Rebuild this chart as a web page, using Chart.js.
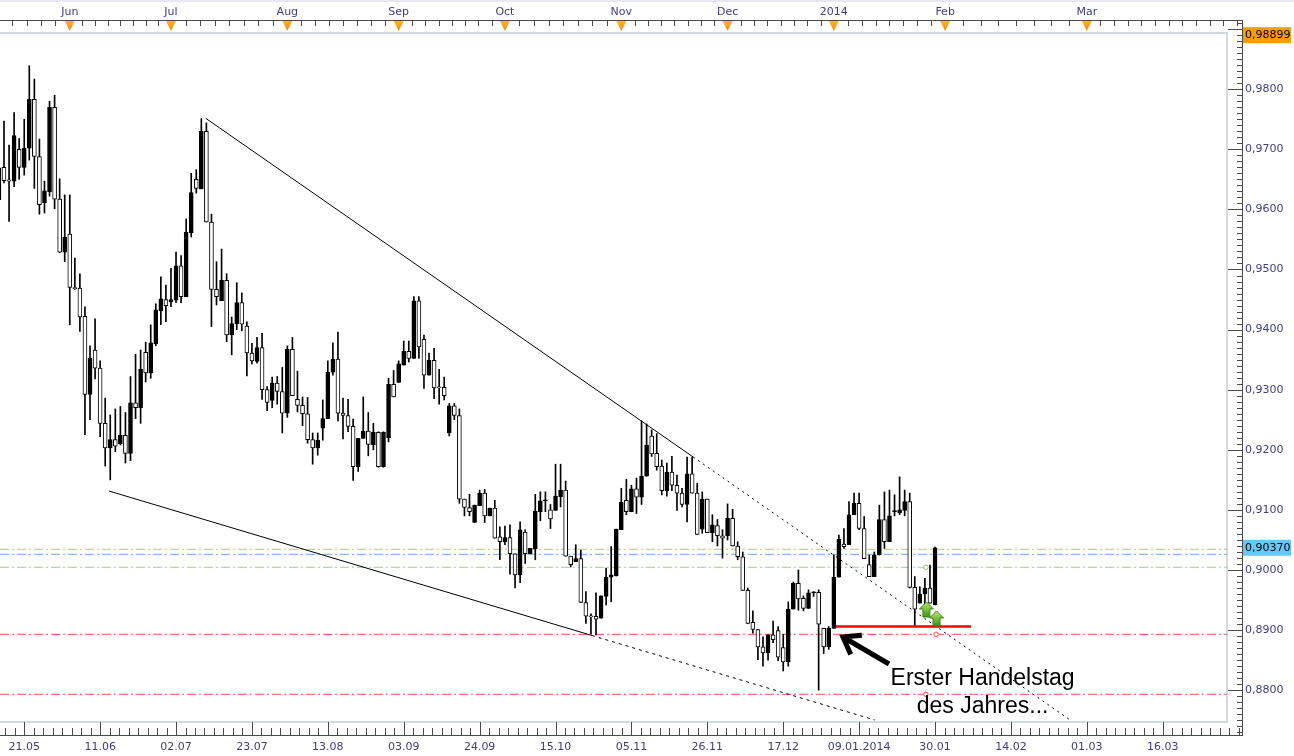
<!DOCTYPE html>
<html>
<head>
<meta charset="utf-8">
<script src="https://cdn.jsdelivr.net/npm/chart.js@4.4.1/dist/chart.umd.min.js"></script>
<style>
  html, body { margin: 0; padding: 0; background: #fff; }
  canvas { display: block; }
</style>
</head>
<body>
<canvas id="chart" width="1294" height="756"></canvas>
<script>
// daily candles, index 0 = partly hidden first day, 5 = 21.05.2013, 185 = 30.01.2014
const opens = [
  0.9616, 0.9670, 0.9649, 0.9647, 0.9700, 0.9670, 0.9702, 0.9783, 0.9688, 0.9611,
  0.9629, 0.9770, 0.9617, 0.9529, 0.9559, 0.9470, 0.9469, 0.9422, 0.9292, 0.9366,
  0.9336, 0.9244, 0.9203, 0.9217, 0.9210, 0.9224, 0.9194, 0.9278, 0.9270, 0.9362,
  0.9328, 0.9376, 0.9431, 0.9450, 0.9446, 0.9449, 0.9506, 0.9455, 0.9561, 0.9650,
  0.9634, 0.9730, 0.9579, 0.9467, 0.9448, 0.9482, 0.9391, 0.9410, 0.9445, 0.9406,
  0.9361, 0.9347, 0.9370, 0.9300, 0.9282, 0.9311, 0.9297, 0.9261, 0.9367, 0.9284,
  0.9274, 0.9260, 0.9217, 0.9203, 0.9236, 0.9252, 0.9329, 0.9351, 0.9261, 0.9257,
  0.9239, 0.9172, 0.9219, 0.9231, 0.9208, 0.9229, 0.9172, 0.9220, 0.9309, 0.9312,
  0.9341, 0.9364, 0.9352, 0.9448, 0.9384, 0.9324, 0.9349, 0.9304, 0.9304, 0.9228,
  0.9273, 0.9257, 0.9118, 0.9104, 0.9079, 0.9107, 0.9128, 0.9090, 0.9103, 0.9055,
  0.9047, 0.9054, 0.9027, 0.8992, 0.9063, 0.9027, 0.9035, 0.9097, 0.9115, 0.9100,
  0.9099, 0.9122, 0.9133, 0.9023, 0.9014, 0.9019, 0.8946, 0.8923, 0.8923, 0.8920,
  0.8956, 0.8988, 0.8990, 0.9067, 0.9116, 0.9097, 0.9135, 0.9121, 0.9156, 0.9223,
  0.9194, 0.9173, 0.9132, 0.9163, 0.9141, 0.9128, 0.9109, 0.9160, 0.9128, 0.9068,
  0.9118, 0.9062, 0.9074, 0.9057, 0.9057, 0.9086, 0.9040, 0.9022, 0.8966, 0.8913,
  0.8901, 0.8872, 0.8862, 0.8892, 0.8899, 0.8871, 0.8847, 0.8935, 0.8978, 0.8953,
  0.8936, 0.8962, 0.8963, 0.8903, 0.8872, 0.8903, 0.8988, 0.9043, 0.9042, 0.9092,
  0.9111, 0.9069, 0.9009, 0.8989, 0.9025, 0.9084, 0.9047, 0.9097, 0.9095, 0.9099,
  0.9114, 0.8971, 0.8945, 0.8960, 0.8970, 0.8942
];
const highs = [
  0.9671, 0.9747, 0.9707, 0.9761, 0.9718, 0.9750, 0.9839, 0.9817, 0.9717, 0.9647,
  0.9780, 0.9790, 0.9651, 0.9624, 0.9624, 0.9519, 0.9493, 0.9438, 0.9373, 0.9418,
  0.9348, 0.9286, 0.9258, 0.9268, 0.9272, 0.9262, 0.9322, 0.9359, 0.9366, 0.9379,
  0.9408, 0.9443, 0.9488, 0.9474, 0.9502, 0.9529, 0.9523, 0.9584, 0.9660, 0.9666,
  0.9751, 0.9744, 0.9592, 0.9513, 0.9534, 0.9493, 0.9421, 0.9478, 0.9461, 0.9413,
  0.9377, 0.9387, 0.9394, 0.9305, 0.9321, 0.9322, 0.9337, 0.9373, 0.9387, 0.9331,
  0.9288, 0.9287, 0.9228, 0.9228, 0.9283, 0.9348, 0.9378, 0.9396, 0.9286, 0.9284,
  0.9251, 0.9219, 0.9288, 0.9262, 0.9244, 0.9230, 0.9230, 0.9319, 0.9332, 0.9348,
  0.9381, 0.9381, 0.9455, 0.9455, 0.9391, 0.9361, 0.9369, 0.9334, 0.9321, 0.9277,
  0.9277, 0.9268, 0.9118, 0.9126, 0.9108, 0.9133, 0.9134, 0.9103, 0.9116, 0.9072,
  0.9073, 0.9075, 0.9027, 0.9080, 0.9067, 0.9036, 0.9126, 0.9130, 0.9130, 0.9109,
  0.9176, 0.9176, 0.9148, 0.9023, 0.9042, 0.9033, 0.8964, 0.8927, 0.8962, 0.8957,
  0.9003, 0.9039, 0.9068, 0.9136, 0.9151, 0.9141, 0.9153, 0.9248, 0.9243, 0.9233,
  0.9227, 0.9183, 0.9178, 0.9189, 0.9158, 0.9136, 0.9188, 0.9188, 0.9144, 0.9130,
  0.9118, 0.9092, 0.9084, 0.9067, 0.9110, 0.9101, 0.9047, 0.9030, 0.8970, 0.8932,
  0.8901, 0.8889, 0.8892, 0.8915, 0.8906, 0.8893, 0.8947, 0.8980, 0.9000, 0.8957,
  0.8967, 0.8964, 0.8967, 0.8903, 0.8906, 0.9025, 0.9058, 0.9069, 0.9114, 0.9128,
  0.9128, 0.9089, 0.9025, 0.9030, 0.9108, 0.9130, 0.9133, 0.9125, 0.9155, 0.9133,
  0.9128, 0.8989, 0.8972, 0.8986, 0.9008, 0.9038
];
const lows = [
  0.9574, 0.9644, 0.9580, 0.9638, 0.9650, 0.9657, 0.9682, 0.9635, 0.9592, 0.9594,
  0.9622, 0.9601, 0.9528, 0.9513, 0.9408, 0.9467, 0.9397, 0.9225, 0.9250, 0.9318,
  0.9222, 0.9173, 0.9150, 0.9197, 0.9208, 0.9178, 0.9182, 0.9252, 0.9244, 0.9313,
  0.9319, 0.9373, 0.9408, 0.9413, 0.9438, 0.9445, 0.9445, 0.9455, 0.9554, 0.9627,
  0.9634, 0.9579, 0.9405, 0.9441, 0.9448, 0.9380, 0.9358, 0.9400, 0.9398, 0.9323,
  0.9343, 0.9344, 0.9284, 0.9265, 0.9270, 0.9276, 0.9228, 0.9254, 0.9290, 0.9263,
  0.9240, 0.9211, 0.9176, 0.9191, 0.9216, 0.9252, 0.9324, 0.9248, 0.9218, 0.9230,
  0.9149, 0.9164, 0.9219, 0.9190, 0.9200, 0.9171, 0.9171, 0.9213, 0.9288, 0.9312,
  0.9341, 0.9346, 0.9352, 0.9352, 0.9302, 0.9324, 0.9285, 0.9276, 0.9283, 0.9223,
  0.9250, 0.9111, 0.9090, 0.9090, 0.9079, 0.9107, 0.9079, 0.9090, 0.9053, 0.9017,
  0.9042, 0.8993, 0.8970, 0.8979, 0.9011, 0.9027, 0.9017, 0.9082, 0.9097, 0.9069,
  0.9099, 0.9105, 0.9023, 0.9005, 0.9014, 0.8946, 0.8911, 0.8894, 0.8892, 0.8920,
  0.8942, 0.8947, 0.8990, 0.9067, 0.9092, 0.9097, 0.9094, 0.9109, 0.9156, 0.9189,
  0.9166, 0.9125, 0.9123, 0.9132, 0.9099, 0.9105, 0.9080, 0.9128, 0.9059, 0.9061,
  0.9062, 0.9047, 0.9040, 0.9020, 0.9050, 0.9040, 0.9017, 0.8966, 0.8911, 0.8895,
  0.8851, 0.8840, 0.8850, 0.8879, 0.8849, 0.8832, 0.8840, 0.8935, 0.8933, 0.8932,
  0.8936, 0.8956, 0.8800, 0.8861, 0.8868, 0.8903, 0.8988, 0.9036, 0.9042, 0.9092,
  0.9067, 0.9019, 0.8989, 0.8989, 0.9025, 0.9036, 0.9047, 0.9090, 0.9092, 0.9090,
  0.8970, 0.8907, 0.8945, 0.8939, 0.8945, 0.8942
];
const closes = [
  0.9669, 0.9648, 0.9647, 0.9723, 0.9670, 0.9702, 0.9783, 0.9688, 0.9608, 0.9631,
  0.9770, 0.9617, 0.9529, 0.9554, 0.9470, 0.9468, 0.9421, 0.9292, 0.9352, 0.9336,
  0.9244, 0.9203, 0.9217, 0.9206, 0.9224, 0.9194, 0.9278, 0.9270, 0.9334, 0.9328,
  0.9378, 0.9433, 0.9451, 0.9440, 0.9450, 0.9506, 0.9455, 0.9562, 0.9628, 0.9635,
  0.9730, 0.9579, 0.9467, 0.9455, 0.9482, 0.9391, 0.9410, 0.9445, 0.9409, 0.9361,
  0.9348, 0.9370, 0.9300, 0.9279, 0.9311, 0.9297, 0.9261, 0.9367, 0.9290, 0.9274,
  0.9260, 0.9217, 0.9203, 0.9216, 0.9252, 0.9329, 0.9351, 0.9261, 0.9257, 0.9239,
  0.9172, 0.9219, 0.9231, 0.9209, 0.9229, 0.9172, 0.9229, 0.9309, 0.9288, 0.9343,
  0.9364, 0.9352, 0.9448, 0.9371, 0.9324, 0.9349, 0.9303, 0.9303, 0.9290, 0.9273,
  0.9257, 0.9118, 0.9104, 0.9097, 0.9108, 0.9128, 0.9090, 0.9103, 0.9053, 0.9047,
  0.9054, 0.9027, 0.8992, 0.9067, 0.9027, 0.9036, 0.9098, 0.9115, 0.9115, 0.9085,
  0.9123, 0.9133, 0.9023, 0.9009, 0.9019, 0.8946, 0.8923, 0.8922, 0.8918, 0.8957,
  0.8988, 0.8992, 0.9068, 0.9113, 0.9097, 0.9135, 0.9121, 0.9156, 0.9208, 0.9193,
  0.9172, 0.9132, 0.9163, 0.9141, 0.9128, 0.9109, 0.9160, 0.9128, 0.9059, 0.9118,
  0.9062, 0.9075, 0.9057, 0.9053, 0.9086, 0.9040, 0.9022, 0.8966, 0.8911, 0.8901,
  0.8872, 0.8862, 0.8892, 0.8884, 0.8855, 0.8847, 0.8935, 0.8978, 0.8952, 0.8936,
  0.8962, 0.8962, 0.8910, 0.8872, 0.8903, 0.8988, 0.9051, 0.9039, 0.9092, 0.9111,
  0.9069, 0.9019, 0.8989, 0.9025, 0.9084, 0.9047, 0.9090, 0.9097, 0.9100, 0.9114,
  0.8971, 0.8935, 0.8960, 0.8970, 0.8945, 0.9037
];

// axes
const dayTicks = [5, 20, 35, 50, 65, 80, 95, 110, 125, 140, 155, 170, 185, 200, 215, 230];
const dayLabels = ['21.05', '11.06', '02.07', '23.07', '13.08', '03.09', '24.09', '15.10',
  '05.11', '26.11', '17.12', '09.01.2014', '30.01', '14.02', '01.03', '16.03'];
const monthTicks = [14, 34, 57, 79, 100, 123, 144, 165, 187, 215];
const monthLabels = ['Jun', 'Jul', 'Aug', 'Sep', 'Oct', 'Nov', 'Dec', '2014', 'Feb', 'Mar'];
const priceTicks = [0.88, 0.89, 0.90, 0.91, 0.92, 0.93, 0.94, 0.95, 0.96, 0.97, 0.98];

// drawn lines (index, price)
const upperTrend = [{x: 40.86, y: 0.97516}, {x: 137.2, y: 0.9188}];
const upperTrendExt = [{x: 137.2, y: 0.9188}, {x: 211.7, y: 0.87504}];
const lowerTrend = [{x: 21.75, y: 0.91314}, {x: 117.2, y: 0.8891}];
const lowerTrendExt = [{x: 117.2, y: 0.8891}, {x: 173.1, y: 0.87504}];
const supportLine = [{x: 165, y: 0.8906}, {x: 192.1, y: 0.8906}];
const levelPrices = [0.90345, 0.90261, 0.90045, 0.8893, 0.87932];
const levelColors = ['#abc992', '#6aaaf8', '#abc992', '#ff4d4d', '#ff4d4d'];

// price tags on the right
const tagPrices = [0.98899, 0.90370];
const tagColors = ['#ff9c00', '#66c8f6'];

// note and markers
const noteLines = ['Erster Handelstag', 'des Jahres...'];
const notePos = [{x: 194.4, y: 0.88087}, {x: 194.4, y: 0.87616}];
const arrowFrom = {x: 175.9, y: 0.88436};
const arrowTo = {x: 166.8, y: 0.88885};
const buySignals = [{x: 183.3, y: 0.89468}, {x: 185.3, y: 0.89318}];
const levelDots = [{x: 185.2, y: 0.8893, c: '#ff4d4d'}, {x: 183.2, y: 0.87932, c: '#ff4d4d'}, {x: 183.2, y: 0.90045, c: '#9cbf80'}];

const X_MIN = 0.21, X_MAX = 245.67, Y_MIN = 0.872546, Y_MAX = 0.991514, FRAME_END = 242.7;

const labelColor = '#3d3d80';
const axisColor = '#4a4a4a';
Chart.defaults.font.family = '"DejaVu Sans", Verdana, sans-serif';
Chart.defaults.font.size = 11;

const idx = opens.map((_, i) => i);

const levelSets = levelPrices.map((p, k) => ({
  type: 'line',
  data: [{x: X_MIN, y: p}, {x: FRAME_END, y: p}],
  borderColor: levelColors[k],
  borderWidth: 1,
  borderDash: [9, 3, 2, 3],
  pointRadius: 0,
  order: 3
}));

const chartDecor = {
  id: 'chartDecor',
  beforeDraw(chart) {
    const {ctx, chartArea: a} = chart;
    ctx.save();
    ctx.fillStyle = '#fff';
    ctx.fillRect(0, 0, chart.width, chart.height);
    ctx.fillStyle = '#e8e8f0';
    ctx.fillRect(0, 0, chart.width, 2);
    // plot frame
    ctx.strokeStyle = '#d4d9df';
    ctx.lineWidth = 2;
    ctx.strokeRect(a.left - 2, a.top + 13, a.right - 15 - a.left + 2, a.bottom - a.top - 26);
    ctx.restore();
  },
  afterDraw(chart) {
    const {ctx, chartArea: a} = chart;
    const xs = chart.scales.x, ys = chart.scales.y;
    ctx.save();
    ctx.strokeStyle = axisColor;
    ctx.lineWidth = 1;
    ctx.beginPath();
    // right axis ticks, pointing into the chart
    for (let v = 873; v <= 991; v++) {
      const py = Math.round(ys.getPixelForValue(v / 1000)) + 0.5;
      const len = v % 10 === 0 ? 14 : 5;
      ctx.moveTo(a.right - len, py);
      ctx.lineTo(a.right, py);
    }
    // bottom axis ticks
    for (let t = dayTicks[0] - 15; t <= X_MAX; t += 15 / 8) {
      if (t < X_MIN) continue;
      const px = Math.round(xs.getPixelForValue(t)) + 0.5;
      const major = dayTicks.some(d => Math.abs(d - t) < 0.01);
      ctx.moveTo(px, a.bottom - (major ? 13 : 7));
      ctx.lineTo(px, a.bottom);
    }
    // top axis ticks
    const topTicks = [];
    for (let t = monthTicks[0]; t > X_MIN; t -= 2.85) topTicks.push(t);
    for (let m = 0; m < monthTicks.length - 1; m++) {
      const step = (monthTicks[m + 1] - monthTicks[m]) / 8;
      for (let k = 1; k < 8; k++) topTicks.push(monthTicks[m] + k * step);
    }
    for (let t = monthTicks[monthTicks.length - 1] + 2.7; t < X_MAX; t += 2.7) topTicks.push(t);
    topTicks.forEach(t => {
      const px = Math.round(xs.getPixelForValue(t)) + 0.5;
      ctx.moveTo(px, a.top);
      ctx.lineTo(px, a.top + 6);
    });
    ctx.stroke();

    // month markers
    monthTicks.forEach(t => {
      const px = xs.getPixelForValue(t);
      const g = ctx.createLinearGradient(0, a.top + 1, 0, a.top + 11);
      g.addColorStop(0, '#ffb23a');
      g.addColorStop(1, '#f08c00');
      ctx.fillStyle = g;
      ctx.beginPath();
      ctx.moveTo(px - 5, a.top + 1);
      ctx.lineTo(px + 5, a.top + 1);
      ctx.lineTo(px, a.top + 11);
      ctx.closePath();
      ctx.fill();
    });

    // price tags
    ctx.font = '11px "DejaVu Sans", Verdana, sans-serif';
    ctx.textBaseline = 'middle';
    ctx.textAlign = 'left';
    tagPrices.forEach((p, k) => {
      const py = ys.getPixelForValue(p);
      ctx.fillStyle = tagColors[k];
      ctx.fillRect(a.right + 1, py - 8, 48, 16);
      ctx.fillStyle = '#000';
      ctx.fillText(p.toFixed(5).replace('.', ','), a.right + 3, py);
    });

    // small dots on the level lines
    levelDots.forEach(d => {
      ctx.beginPath();
      ctx.arc(xs.getPixelForValue(d.x), ys.getPixelForValue(d.y), 2.2, 0, Math.PI * 2);
      ctx.fillStyle = '#fff';
      ctx.fill();
      ctx.strokeStyle = d.c;
      ctx.lineWidth = 1;
      ctx.stroke();
    });

    // buy arrows
    buySignals.forEach(s => {
      const cx = xs.getPixelForValue(s.x), top = ys.getPixelForValue(s.y);
      const g = ctx.createLinearGradient(0, top, 0, top + 15);
      g.addColorStop(0, '#b9e86e');
      g.addColorStop(1, '#3a9612');
      ctx.fillStyle = g;
      ctx.strokeStyle = '#3d7f16';
      ctx.lineWidth = 1;
      ctx.beginPath();
      ctx.moveTo(cx, top);
      ctx.lineTo(cx + 7, top + 7);
      ctx.lineTo(cx + 3.5, top + 7);
      ctx.lineTo(cx + 3.5, top + 15);
      ctx.lineTo(cx - 3.5, top + 15);
      ctx.lineTo(cx - 3.5, top + 7);
      ctx.lineTo(cx - 7, top + 7);
      ctx.closePath();
      ctx.fill();
      ctx.stroke();
    });

    // annotation arrow
    const x0 = xs.getPixelForValue(arrowFrom.x), y0 = ys.getPixelForValue(arrowFrom.y);
    const x1 = xs.getPixelForValue(arrowTo.x), y1 = ys.getPixelForValue(arrowTo.y);
    const ang = Math.atan2(y0 - y1, x0 - x1);
    ctx.strokeStyle = '#000';
    ctx.lineWidth = 5;
    ctx.lineJoin = 'miter';
    ctx.beginPath();
    ctx.moveTo(x0, y0);
    ctx.lineTo(x1 + 2 * Math.cos(ang), y1 + 2 * Math.sin(ang));
    ctx.moveTo(x1 + 19 * Math.cos(ang + 0.62), y1 + 19 * Math.sin(ang + 0.62));
    ctx.lineTo(x1, y1);
    ctx.lineTo(x1 + 19 * Math.cos(ang - 0.62), y1 + 19 * Math.sin(ang - 0.62));
    ctx.stroke();

    // annotation text
    ctx.fillStyle = '#000';
    ctx.font = '23px "Liberation Sans", Arial, sans-serif';
    ctx.textAlign = 'center';
    ctx.textBaseline = 'alphabetic';
    noteLines.forEach((t, k) => {
      ctx.fillText(t, xs.getPixelForValue(notePos[k].x), ys.getPixelForValue(notePos[k].y));
    });
    ctx.restore();
  }
};

new Chart(document.getElementById('chart'), {
  type: 'bar',
  data: {
    datasets: [
      {
        label: 'body',
        data: idx.map(i => ({x: i, y: [opens[i], closes[i]]})),
        backgroundColor: (c) => closes[c.dataIndex] >= opens[c.dataIndex] ? '#000' : '#fff',
        borderColor: '#000',
        borderWidth: 1,
        borderSkipped: false,
        barThickness: 4,
        minBarLength: 1,
        grouped: false,
        order: 0
      },
      {
        label: 'wick',
        data: idx.map(i => ({x: i, y: [lows[i], highs[i]]})),
        backgroundColor: '#000',
        barThickness: 1,
        grouped: false,
        order: 1
      },
      {type: 'line', data: upperTrend, borderColor: '#000', borderWidth: 1, pointRadius: 0, order: 2},
      {type: 'line', data: upperTrendExt, borderColor: '#000', borderWidth: 1, borderDash: [2, 4], pointRadius: 0, order: 2},
      {type: 'line', data: lowerTrend, borderColor: '#000', borderWidth: 1, pointRadius: 0, order: 2},
      {type: 'line', data: lowerTrendExt, borderColor: '#000', borderWidth: 1, borderDash: [3, 4], pointRadius: 0, order: 2},
      {type: 'line', data: supportLine, borderColor: '#ff0000', borderWidth: 2.5, pointRadius: 0, order: 0},
      ...levelSets
    ]
  },
  options: {
    responsive: false,
    animation: false,
    events: [],
    devicePixelRatio: 1,
    layout: {padding: 0},
    plugins: {legend: {display: false}, tooltip: {enabled: false}},
    scales: {
      x: {
        type: 'linear',
        position: 'bottom',
        min: X_MIN,
        max: X_MAX,
        offset: false,
        grid: {display: false, drawOnChartArea: false, drawTicks: false, offset: false},
        border: {display: true, color: axisColor},
        afterBuildTicks: (s) => { s.ticks = dayTicks.map(v => ({value: v})); },
        afterFit: (s) => { s.height = 21; },
        ticks: {
          autoSkip: false,
          maxRotation: 0,
          padding: 6,
          color: labelColor,
          callback: (v, i) => dayLabels[i]
        }
      },
      x2: {
        type: 'linear',
        position: 'top',
        min: X_MIN,
        max: X_MAX,
        offset: false,
        grid: {display: false, drawOnChartArea: false, drawTicks: false},
        border: {display: true, color: axisColor},
        afterBuildTicks: (s) => { s.ticks = monthTicks.map(v => ({value: v})); },
        afterFit: (s) => { s.height = 20; },
        ticks: {
          autoSkip: false,
          maxRotation: 0,
          padding: 1,
          color: labelColor,
          callback: (v, i) => monthLabels[i]
        }
      },
      y: {
        type: 'linear',
        position: 'right',
        min: Y_MIN,
        max: Y_MAX,
        grid: {display: false, drawOnChartArea: false, drawTicks: false},
        border: {display: true, color: axisColor},
        afterBuildTicks: (s) => { s.ticks = priceTicks.map(v => ({value: v})); },
        afterFit: (s) => { s.width = 52; },
        ticks: {
          autoSkip: false,
          padding: 3,
          color: labelColor,
          callback: (v) => v.toFixed(4).replace('.', ',')
        }
      }
    }
  },
  plugins: [chartDecor]
});
</script>
</body>
</html>
